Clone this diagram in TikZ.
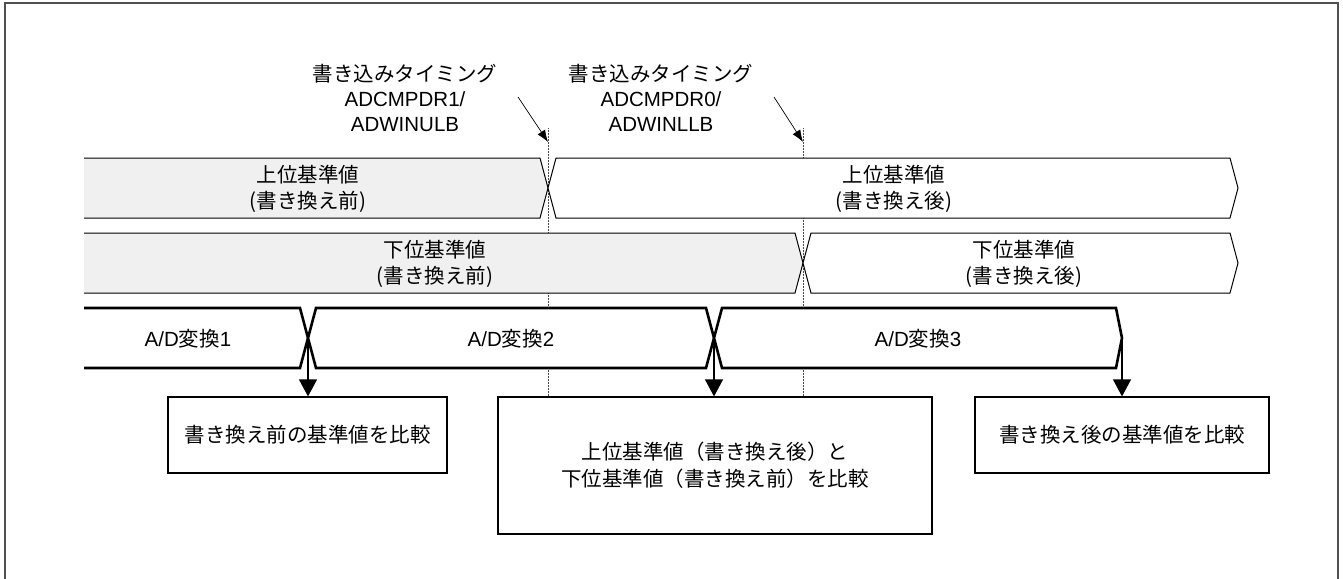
\documentclass[tikz,border=0pt]{standalone}
\usepackage{fontspec}
\setmainfont{Noto Sans CJK JP}
\newfontfamily\lat{Liberation Sans}
\usetikzlibrary{arrows.meta}
\definecolor{rowgray}{HTML}{F0F0F0}
\definecolor{framegray}{HTML}{505050}
\begin{document}
\begin{tikzpicture}[x=1pt,y=-1pt,
  txt/.style={font=\fontsize{20.5}{26}\selectfont, align=center, inner sep=0pt},
  lbl/.style={font=\fontsize{20.5}{25}\selectfont, align=center, inner sep=0pt},
  rowline/.style={line width=1pt, line join=miter},
  adline/.style={line width=2.6pt, line join=miter},
  cmpbox/.style={draw, line width=1.2pt, fill=white, inner sep=0pt, font=\fontsize{20.5}{27}\selectfont, align=center},
  guide/.style={line width=0.5pt, densely dotted, black!70},
  wrarrow/.style={line width=0.7pt, -{Latex[length=12pt,width=9pt]}},
  cmparrow/.style={line width=1.2pt, -{Triangle[length=17pt,width=18pt]}}]
\useasboundingbox (0,0) rectangle (1343,578);
% frame
\draw[framegray, line width=1.4pt] (5,580) -- (5,3) -- (1338,3) -- (1338,580);
% guide lines
\coordinate (g1t) at (548,128);
\coordinate (g1b) at (548,397);
\coordinate (g2t) at (803,128);
\coordinate (g2b) at (803,397);
\draw[guide] (g1t) -- (g1b);
\draw[guide] (g2t) -- (g2b);
% upper reference row
\draw[rowline, fill=rowgray] (84,158) -- (540,158) -- (548,188) -- (540,218) -- (84,218);
\draw[rowline, fill=white] (556,158) -- (1230,158) -- (1238,188) -- (1230,218) -- (556,218) -- (548,188) -- cycle;
% lower reference row
\draw[rowline, fill=rowgray] (84,233) -- (795,233) -- (803,263) -- (795,293) -- (84,293);
\draw[rowline, fill=white] (811,233) -- (1230,233) -- (1238,263) -- (1230,293) -- (811,293) -- (803,263) -- cycle;
\node[txt] (u1) at (308,189) {上位基準値\\(書き換え前)};
\node[txt] (u2) at (894,189) {上位基準値\\(書き換え後)};
\node[txt] (d1) at (435,264) {下位基準値\\(書き換え前)};
\node[txt] (d2) at (1024,264) {下位基準値\\(書き換え後)};
% A/D conversion row
\coordinate (x1) at (308,338);
\coordinate (x2) at (714,338);
\coordinate (x3) at (1122,338);
\draw[adline, fill=white] (84,308) -- (300,308) -- (x1) -- (300,368) -- (84,368);
\draw[adline, fill=white] (316,308) -- (706,308) -- (x2) -- (706,368) -- (316,368) -- (x1) -- cycle;
\draw[adline, fill=white] (722,308) -- (1116,308) -- (x3) -- (1116,368) -- (722,368) -- (x2) -- cycle;
\node[txt] (ad1) at (188,339) {{\lat A/D}変換{\lat 1}};
\node[txt] (ad2) at (511,339) {{\lat A/D}変換{\lat 2}};
\node[txt] (ad3) at (918,339) {{\lat A/D}変換{\lat 3}};
% comparison boxes
\node[cmpbox, minimum width=279pt, minimum height=76pt] (b1) at (307.5,435) {書き換え前の基準値を比較};
\node[cmpbox, minimum width=434pt, minimum height=137pt] (b2) at (715,465.5) {上位基準値（書き換え後）と\\下位基準値（書き換え前）を比較};
\node[cmpbox, minimum width=294pt, minimum height=76pt] (b3) at (1122,435) {書き換え後の基準値を比較};
\draw[cmparrow] (x1) -- (x1 |- b1.north);
\draw[cmparrow] (x2) -- (x2 |- b2.north);
\draw[cmparrow] (x3) -- (x3 |- b3.north);
% write timing labels
\node[lbl] (w1) at (405,98) {書き込みタイミング\\{\lat ADCMPDR1/}\\{\lat ADWINULB}};
\node[lbl] (w2) at (661,98) {書き込みタイミング\\{\lat ADCMPDR0/}\\{\lat ADWINLLB}};
\coordinate (w1s) at (518,97);
\coordinate (w2s) at (774,97);
\draw[wrarrow] (w1s) -- (g1t |- 0,142);
\draw[wrarrow] (w2s) -- (g2t |- 0,142);
\end{tikzpicture}
\end{document}
